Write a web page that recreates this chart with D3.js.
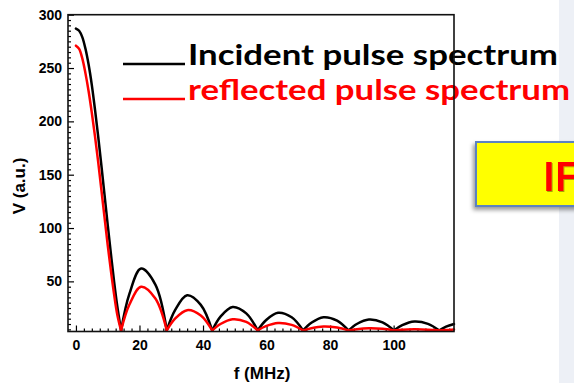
<!DOCTYPE html>
<html>
<head>
<meta charset="utf-8">
<script src="https://cdn.jsdelivr.net/npm/d3@7"></script>
<style>
  html, body { margin: 0; padding: 0; background: #fff; }
  svg { display: block; }
</style>
</head>
<body>
<svg id="chart" width="574" height="383"></svg>
<script>
// Sampled spectrum (frequency in MHz, amplitude in a.u.)
const freq = [
  0, 1, 2, 3, 4, 5, 6, 7, 8, 9, 10, 11, 12, 13, 14.2,
  16.8, 20.5, 25.0, 28.6,
  31.2, 35.0, 39.3, 42.9,
  45.5, 49.3, 53.6, 57.2,
  59.8, 63.6, 67.9, 71.5,
  74.1, 77.9, 82.2, 85.8,
  88.4, 92.2, 96.5, 100.1,
  102.7, 106.5, 110.8, 114.4,
  116.5, 119
];
const incident = [
  287, 285, 279, 268, 253, 234, 211, 186, 159, 131, 103, 76, 50, 27, 4,
  38, 62, 47, 4,
  23, 37, 28, 4,
  17, 26, 20, 4,
  13.6, 20.6, 16.3, 4,
  11.2, 16.4, 13.2, 4,
  10, 14.3, 11.6, 4,
  8.9, 12.4, 10.2, 4,
  7.5, 10
];
const reflected = [
  271, 268, 259, 245, 228, 208, 186, 162, 136, 110, 84, 60, 38, 19, 4,
  28, 45, 34, 4,
  15, 23, 18, 4,
  10, 14.5, 12, 4,
  8, 11, 9.2, 4,
  6.1, 7.7, 6.7, 4,
  5.2, 6, 5.5, 4,
  4.6, 5, 4.7, 4,
  4.3, 4.8
];
const xMajorTicks = [0, 20, 40, 60, 80, 100];
const yMajorTicks = [50, 100, 150, 200, 250, 300];
const legendLabels = ["Incident pulse spectrum", "reflected pulse spectrum"];
const seriesColors = ["#000000", "#ff0000"];

const svg = d3.select("#chart");
const plotLeft = 68, plotRight = 454, plotTop = 14.7, plotBottom = 331.5;

const x = d3.scaleLinear().domain([-2.5, 119]).range([plotLeft, plotRight]);
const y = d3.scaleLinear().domain([3, 300]).range([plotBottom, plotTop]);

const defs = svg.append("defs");
const shadow = defs.append("filter").attr("id", "boxShadow")
  .attr("x", "-20%").attr("y", "-30%").attr("width", "140%").attr("height", "170%");
shadow.append("feDropShadow").attr("dx", -2).attr("dy", 3).attr("stdDeviation", 2)
  .attr("flood-color", "#000").attr("flood-opacity", 0.4);
const textShadow = defs.append("filter").attr("id", "textShadow");
textShadow.append("feDropShadow").attr("dx", 1).attr("dy", 1).attr("stdDeviation", 0.6)
  .attr("flood-color", "#000").attr("flood-opacity", 0.35);

// light side panel
svg.append("rect").attr("x", 559).attr("y", 0).attr("width", 15).attr("height", 383)
  .attr("fill", "#edf0f6");

// yellow callout box
svg.append("rect").attr("x", 476).attr("y", 142).attr("width", 140).attr("height", 64)
  .attr("fill", "#ffff00").attr("stroke", "#5b82c0").attr("stroke-width", 2)
  .attr("filter", "url(#boxShadow)");
svg.append("text").attr("x", 543).attr("y", 191)
  .attr("font-family", "Lato, 'Open Sans', sans-serif").attr("font-weight", 700)
  .attr("font-size", 40).attr("fill", "#ff0000").attr("filter", "url(#textShadow)")
  .text("IF");

// axes with inward ticks
const xMinor = d3.range(0, 119, 2.5).filter(v => !xMajorTicks.includes(v));
const yMinor = d3.range(5, 300, 5).filter(v => !yMajorTicks.includes(v));

const gx = svg.append("g").attr("transform", `translate(0,${plotBottom})`);
gx.call(d3.axisBottom(x).tickValues(xMinor).tickSize(-3).tickFormat(""));
gx.call(g => g.select(".domain").remove());
const gxMaj = svg.append("g").attr("transform", `translate(0,${plotBottom})`)
  .call(d3.axisBottom(x).tickValues(xMajorTicks).tickSizeInner(-6).tickSizeOuter(0).tickPadding(9));
gxMaj.select(".domain").remove();

const gy = svg.append("g").attr("transform", `translate(${plotLeft},0)`);
gy.call(d3.axisLeft(y).tickValues(yMinor).tickSize(-3).tickFormat(""));
gy.call(g => g.select(".domain").remove());
const gyMaj = svg.append("g").attr("transform", `translate(${plotLeft},0)`)
  .call(d3.axisLeft(y).tickValues(yMajorTicks).tickSizeInner(-6).tickSizeOuter(0).tickPadding(6));
gyMaj.select(".domain").remove();

svg.selectAll(".tick line").attr("stroke", "#000").attr("stroke-width", 1.2);
svg.selectAll(".tick text")
  .attr("font-family", "'Liberation Sans', Arial, sans-serif")
  .attr("font-weight", 700).attr("font-size", 14).attr("fill", "#000");

// spectrum curves, one arch per lobe so the nulls stay sharp
function lobes(values) {
  const segs = [];
  let cur = [];
  values.forEach((v, i) => {
    cur.push([freq[i], v]);
    const isMin = i > 0 && i < values.length - 1 && v < values[i - 1] && v < values[i + 1];
    if (isMin) { segs.push(cur); cur = [[freq[i], v]]; }
  });
  if (cur.length > 1) segs.push(cur);
  return segs;
}
const line = d3.line().x(d => x(d[0])).y(d => y(d[1])).curve(d3.curveCatmullRom.alpha(0.5));

[incident, reflected].forEach((vals, k) => {
  svg.append("g").selectAll("path").data(lobes(vals)).join("path")
    .attr("d", line).attr("fill", "none")
    .attr("stroke", seriesColors[k]).attr("stroke-width", 2.5)
    .attr("stroke-linejoin", "round").attr("stroke-linecap", "round");
});

// legend
const legendY = [63, 98];
legendLabels.forEach((lab, k) => {
  svg.append("line").attr("x1", 123).attr("x2", 185)
    .attr("y1", legendY[k] + 1).attr("y2", legendY[k] + 1)
    .attr("stroke", seriesColors[k]).attr("stroke-width", 2.5);
  svg.append("text").attr("x", 188).attr("y", legendY[k] + 2)
    .attr("font-family", "Lato, 'Open Sans', sans-serif").attr("font-weight", 700)
    .attr("font-size", 28).attr("fill", seriesColors[k])
    .attr("textLength", k === 0 ? 370 : 382).attr("lengthAdjust", "spacingAndGlyphs")
    .text(lab);
});

// plot frame
svg.append("rect").attr("x", plotLeft).attr("y", plotTop)
  .attr("width", plotRight - plotLeft).attr("height", plotBottom - plotTop)
  .attr("fill", "none").attr("stroke", "#111").attr("stroke-width", 1.6);

// axis titles
svg.append("text").attr("transform", "translate(25,186) rotate(-90)")
  .attr("text-anchor", "middle")
  .attr("font-family", "'Liberation Sans', Arial, sans-serif")
  .attr("font-weight", 700).attr("font-size", 17).text("V (a.u.)");
svg.append("text").attr("x", 262).attr("y", 379).attr("text-anchor", "middle")
  .attr("font-family", "'Liberation Sans', Arial, sans-serif")
  .attr("font-weight", 700).attr("font-size", 17).text("f (MHz)");
</script>
</body>
</html>
